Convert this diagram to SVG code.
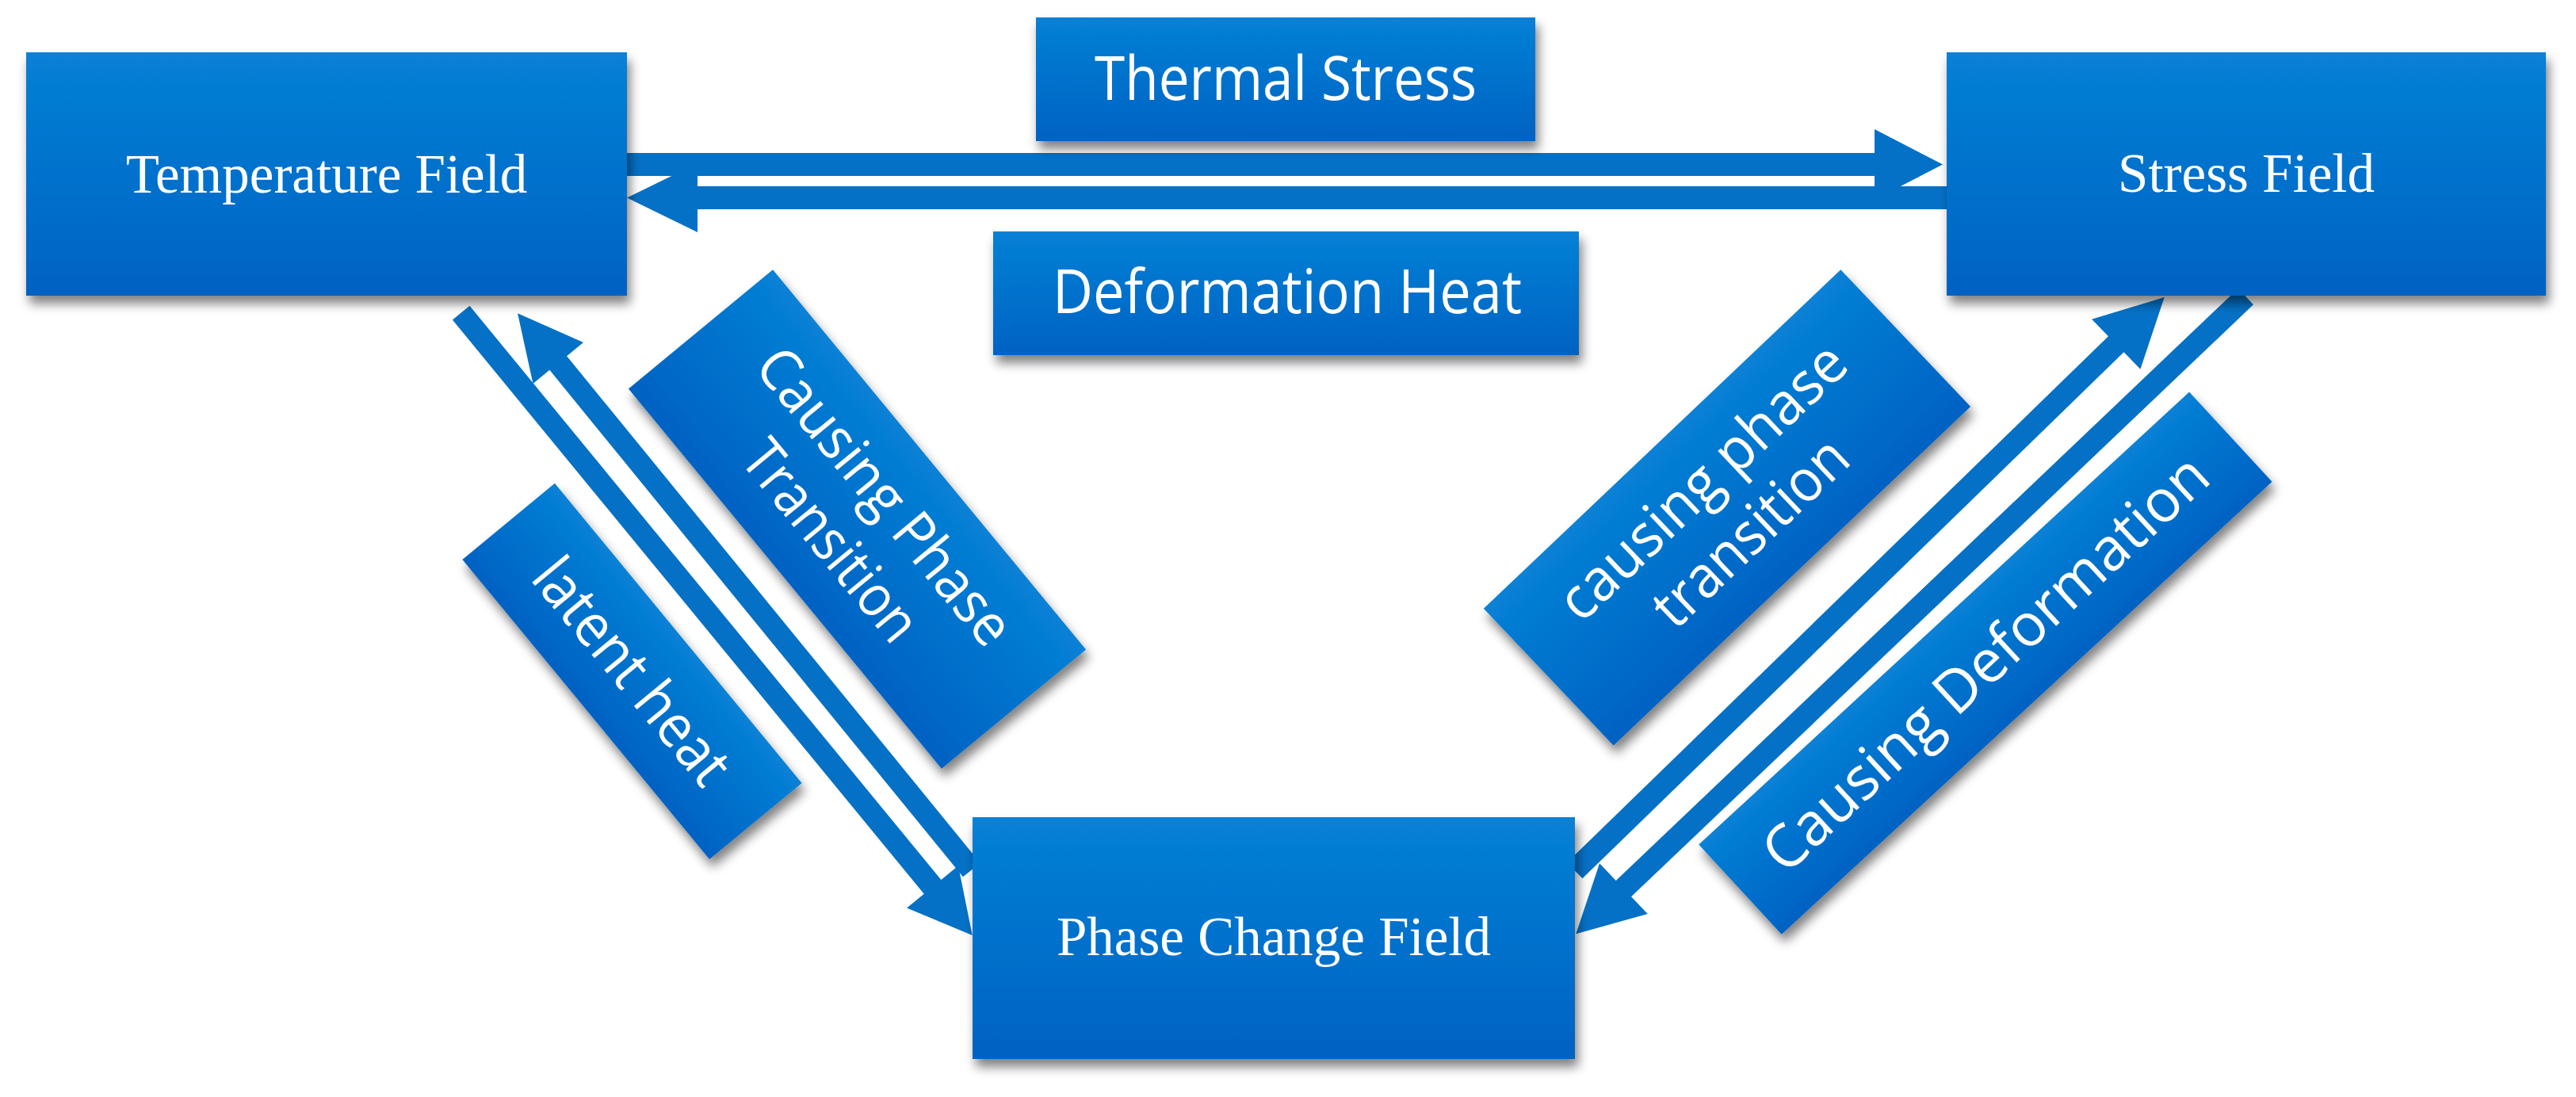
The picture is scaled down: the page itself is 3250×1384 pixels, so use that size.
<svg xmlns="http://www.w3.org/2000/svg" width="3250" height="1384" viewBox="0 0 3250 1384">
<defs>
<linearGradient id="g" x1="0" y1="0" x2="0" y2="1">
<stop offset="0" stop-color="#0781D6"/>
<stop offset="1" stop-color="#0062C3"/>
</linearGradient>
<filter id="sh" x="-15%" y="-15%" width="135%" height="150%">
<feGaussianBlur in="SourceAlpha" stdDeviation="7"/>
<feOffset dx="4" dy="10" result="o"/>
<feComponentTransfer><feFuncA type="linear" slope="0.5"/></feComponentTransfer>
<feMerge><feMergeNode/><feMergeNode in="SourceGraphic"/></feMerge>
</filter>
<style>
.box{fill:url(#g);}
.arr{fill:#0571C6;}
.serif{font-family:"Liberation Serif","Times New Roman",serif;font-size:69px;fill:#fff;text-anchor:middle;}
.sans{font-family:"Open Sans","Noto Sans",sans-serif;fill:#fff;text-anchor:middle;}
</style>
</defs>
<rect width="3250" height="1384" fill="#fff"/>

<g id="connectors">
<polygon class="arr" points="791,193 2365,193 2365,163 2451,207.5 2365,252 2365,222 791,222"/>
<polygon class="arr" points="2456,235 880,235 880,206 791,249.5 880,293 880,264 2456,264"/>
<path class="arr" transform="translate(581.7,394.7) rotate(50.6)" d="M0,-14 L937.2,-14 L937.2,-42 L1016.2,0 L937.2,42 L937.2,14 L0,14 Z"/>
<path class="arr" transform="translate(1225.8,1097.5) rotate(230.8)" d="M0,-14 L825.2,-14 L825.2,-41 L906.2,0 L825.2,41 L825.2,14 L0,14 Z"/>
<path class="arr" transform="translate(1986.7,1098.3) rotate(-44.19)" d="M0,-14 L952.6,-14 L952.6,-44 L1037.6,0 L952.6,44 L952.6,14 L0,14 Z"/>
<path class="arr" transform="translate(2833.3,374.2) rotate(136.42)" d="M0,-14 L1083.5,-14 L1083.5,-44 L1166.5,0 L1083.5,44 L1083.5,14 L0,14 Z"/>
</g>

<g id="node-temperature-field">
<rect class="box" x="33" y="66" width="758" height="307" filter="url(#sh)"/>
<text class="serif" x="412" y="243">Temperature Field</text>
</g>

<g id="node-stress-field">
<rect class="box" x="2456" y="66" width="756" height="307" filter="url(#sh)"/>
<text class="serif" x="2834" y="242">Stress Field</text>
</g>

<g id="node-phase-change-field">
<rect class="box" x="1227" y="1031" width="760" height="305" filter="url(#sh)"/>
<text class="serif" x="1607" y="1205">Phase Change Field</text>
</g>

<g id="label-thermal-stress">
<rect class="box" x="1307" y="22" width="630" height="156" filter="url(#sh)"/>
<text class="sans" x="1622" y="126" font-size="77" textLength="482" lengthAdjust="spacingAndGlyphs">Thermal Stress</text>
</g>

<g id="label-deformation-heat">
<rect class="box" x="1253" y="292" width="739" height="156" filter="url(#sh)"/>
<text class="sans" x="1624" y="395" font-size="76" textLength="592" lengthAdjust="spacingAndGlyphs">Deformation Heat</text>
</g>

<g id="label-causing-phase-transition-left">
<g filter="url(#sh)"><rect class="box" x="-310.5" y="-118" width="621" height="236" transform="translate(1081.5,655) rotate(50.5)"/></g>
<g transform="translate(1081.5,655) rotate(50.5)">
<text class="sans" x="0" y="-20" font-size="73" textLength="462" lengthAdjust="spacingAndGlyphs">Causing Phase</text>
<text class="sans" x="0" y="68" font-size="73" textLength="305" lengthAdjust="spacingAndGlyphs">Transition</text>
</g>
</g>

<g id="label-latent-heat">
<g filter="url(#sh)"><rect class="box" x="-245" y="-75.5" width="490" height="151" transform="translate(797.5,846.9) rotate(50.5)"/></g>
<text class="sans" transform="translate(797.5,846.9) rotate(50.5)" x="0" y="26" font-size="75" textLength="345" lengthAdjust="spacingAndGlyphs">latent heat</text>
</g>

<g id="label-causing-phase-transition-right">
<g filter="url(#sh)"><rect class="box" x="-310.5" y="-119" width="621" height="238" transform="translate(2179,640.4) rotate(-43.5)"/></g>
<g transform="translate(2179,640.4) rotate(-43.5)">
<text class="sans" x="0" y="-20" font-size="74" textLength="470" lengthAdjust="spacingAndGlyphs">causing phase</text>
<text class="sans" x="0" y="68" font-size="74" textLength="310" lengthAdjust="spacingAndGlyphs">transition</text>
</g>
</g>

<g id="label-causing-deformation">
<g filter="url(#sh)"><rect class="box" x="-421" y="-77" width="842" height="154" transform="translate(2504.9,836.7) rotate(-42.7)"/></g>
<text class="sans" transform="translate(2504.9,836.7) rotate(-42.7)" x="0" y="26" font-size="75" textLength="735" lengthAdjust="spacingAndGlyphs">Causing Deformation</text>
</g>
</svg>
